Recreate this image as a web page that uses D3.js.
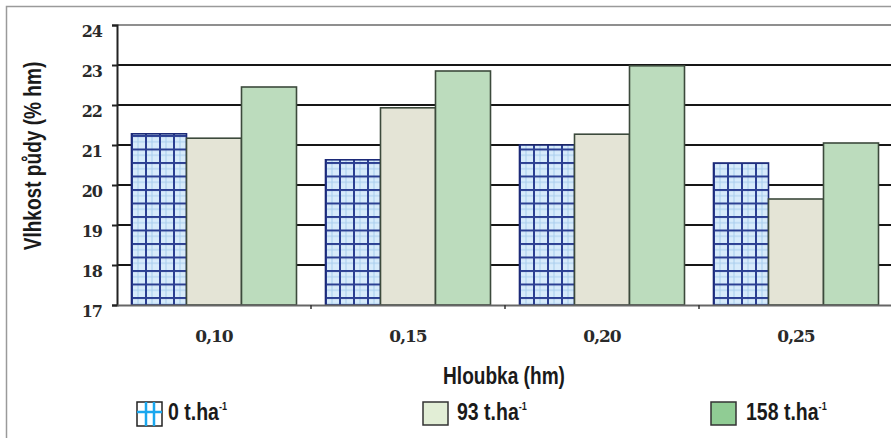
<!DOCTYPE html>
<html>
<head>
<meta charset="utf-8">
<script src="https://cdn.jsdelivr.net/npm/d3@7"></script>
<style>
  html, body { margin: 0; padding: 0; background: #fff; }
  svg { display: block; }
</style>
</head>
<body>
<svg id="chart" width="891" height="438"></svg>
<script>
// Soil moisture by depth for three manure doses
const categories = ["0,10", "0,15", "0,20", "0,25"];
const seriesNames = ["0 t.ha", "93 t.ha", "158 t.ha"];
const dose0 = [21.28, 20.63, 21.0, 20.55];
const dose93 = [21.17, 21.93, 21.27, 19.65];
const dose158 = [22.45, 22.85, 22.98, 21.05];
const yTicks = [17, 18, 19, 20, 21, 22, 23, 24];

const seriesValues = [dose0, dose93, dose158];
const rows = categories.map((c, i) => ({
  cat: c,
  values: seriesNames.map((s, j) => ({ key: s, value: seriesValues[j][i] }))
}));

const svg = d3.select("#chart");
const W = 891, H = 438;
const plot = { left: 117, right: 893, top: 25, bottom: 305 };

const serifFont = "'DejaVu Serif', serif";
const sansFont = "'Liberation Sans', Arial, sans-serif";
const narrow = 0.83; // horizontal squeeze for the condensed sans labels

// outer frame
svg.append("rect").attr("x", 6.5).attr("y", 6.5).attr("width", 900).attr("height", 450)
  .attr("fill", "#fff").attr("stroke", "#9a9a9a").attr("stroke-width", 1.5);

const x0 = d3.scaleBand().domain(categories).range([plot.left, plot.right]).padding(0);
const x1 = d3.scaleBand().domain(seriesNames).range([14.5, x0.bandwidth() - 14.5]).padding(0);
const y = d3.scaleLinear().domain([17, 24]).range([plot.bottom, plot.top]);

// pattern for the zero-dose bars
const defs = svg.append("defs");
const pat = defs.append("pattern").attr("id", "grid").attr("patternUnits", "userSpaceOnUse")
  .attr("width", 14).attr("height", 13.5).attr("x", 0).attr("y", 0);
pat.append("rect").attr("width", 14).attr("height", 13.5).attr("fill", "#d7ebfb");
pat.append("line").attr("x1", 7).attr("x2", 7).attr("y1", 0).attr("y2", 13.5).attr("stroke", "#a8cdee").attr("stroke-width", 1);
pat.append("line").attr("x1", 0).attr("x2", 14).attr("y1", 6.75).attr("y2", 6.75).attr("stroke", "#a8cdee").attr("stroke-width", 1);
pat.append("line").attr("x1", 1).attr("x2", 1).attr("y1", 0).attr("y2", 13.5).attr("stroke", "#2b3f92").attr("stroke-width", 2);
pat.append("line").attr("x1", 0).attr("x2", 14).attr("y1", 1).attr("y2", 1).attr("stroke", "#2b3f92").attr("stroke-width", 2);

// horizontal gridlines
svg.append("g").selectAll("line").data(yTicks.filter(t => t > 17)).join("line")
  .attr("x1", plot.left).attr("x2", W)
  .attr("y1", d => y(d)).attr("y2", d => y(d))
  .attr("stroke", d => d === 24 ? "#6a6a6a" : "#161616")
  .attr("stroke-width", d => d === 24 ? 1.5 : 2);

// bars
const fills = { "0 t.ha": "url(#grid)", "93 t.ha": "#e4e4d6", "158 t.ha": "#bcdcbd" };
const strokes = { "0 t.ha": "#1c2a78", "93 t.ha": "#3c4a3c", "158 t.ha": "#3c4a3c" };
const groups = svg.append("g").selectAll("g").data(rows).join("g")
  .attr("transform", d => `translate(${x0(d.cat)},0)`);
groups.selectAll("rect").data(d => d.values).join("rect")
  .attr("x", d => x1(d.key))
  .attr("y", d => y(d.value))
  .attr("width", x1.bandwidth())
  .attr("height", d => y(17) - y(d.value))
  .attr("fill", d => fills[d.key])
  .attr("stroke", d => strokes[d.key])
  .attr("stroke-width", 1.6);

// y axis
const yAxis = svg.append("g").attr("transform", `translate(${plot.left},0)`)
  .call(d3.axisLeft(y).tickValues(yTicks).tickSize(5).tickPadding(15).tickFormat(d3.format("d")));
yAxis.select(".domain").attr("stroke", "#222").attr("stroke-width", 2);
yAxis.selectAll(".tick line").attr("stroke", "#222").attr("stroke-width", 2);
yAxis.selectAll(".tick text")
  .attr("font-family", serifFont).attr("font-weight", "bold").attr("font-size", 16)
  .attr("fill", "#2a2a2a").attr("dy", "0.72em").attr("x", -15).attr("letter-spacing", "-1px");

// x axis
const xAxis = svg.append("g").attr("transform", `translate(0,${plot.bottom})`)
  .call(d3.axisBottom(x0).tickSize(0).tickPadding(25));
xAxis.select(".domain").attr("stroke", "#666").attr("stroke-width", 2);
xAxis.selectAll(".tick text")
  .attr("font-family", serifFont).attr("font-weight", "bold").attr("font-size", 17)
  .attr("fill", "#2a2a2a").attr("letter-spacing", "-1px");
// small separators between categories
svg.append("g").selectAll("line").data(categories.slice(1)).join("line")
  .attr("x1", d => x0(d)).attr("x2", d => x0(d))
  .attr("y1", plot.bottom).attr("y2", plot.bottom + 4)
  .attr("stroke", "#333").attr("stroke-width", 1.5);

// axis titles
svg.append("text").attr("transform", `translate(504,384) scale(${narrow},1)`).attr("text-anchor", "middle")
  .attr("font-family", sansFont).attr("font-weight", "bold").attr("font-size", 23)
  .attr("fill", "#1a1a1a").text("Hloubka (hm)");
svg.append("text").attr("transform", `translate(41,156) rotate(-90) scale(${narrow},1)`).attr("text-anchor", "middle")
  .attr("font-family", sansFont).attr("font-weight", "bold").attr("font-size", 23)
  .attr("fill", "#1a1a1a").text("Vlhkost půdy (% hm)");

// legend
const legendX = [137, 423, 711];
const legendTextX = [168, 457, 746];
const legend = svg.append("g");
seriesNames.forEach((name, i) => {
  const sx = legendX[i], sy = 402;
  if (i === 0) {
    legend.append("rect").attr("x", sx).attr("y", sy).attr("width", 25).attr("height", 24)
      .attr("fill", "#fff").attr("stroke", "#222").attr("stroke-width", 1.5);
    [9, 17].forEach(dx => legend.append("line").attr("x1", sx + dx).attr("x2", sx + dx)
      .attr("y1", sy).attr("y2", sy + 24).attr("stroke", "#1aa7ee").attr("stroke-width", 2.5));
    legend.append("line").attr("x1", sx).attr("x2", sx + 25).attr("y1", sy + 10).attr("y2", sy + 10)
      .attr("stroke", "#1aa7ee").attr("stroke-width", 2.5);
  } else {
    legend.append("rect").attr("x", sx).attr("y", sy).attr("width", 25).attr("height", 23)
      .attr("fill", i === 1 ? "#e2eed6" : "#90cc94").attr("stroke", "#333").attr("stroke-width", 1.5);
  }
  const t = legend.append("text").attr("transform", `translate(${legendTextX[i]},420) scale(${narrow},1)`)
    .attr("font-family", sansFont).attr("font-weight", "bold").attr("font-size", 23.5)
    .attr("fill", "#1a1a1a");
  t.append("tspan").text(name);
  t.append("tspan").attr("dy", -10).attr("font-size", 11).text("-1");
});
</script>
</body>
</html>
